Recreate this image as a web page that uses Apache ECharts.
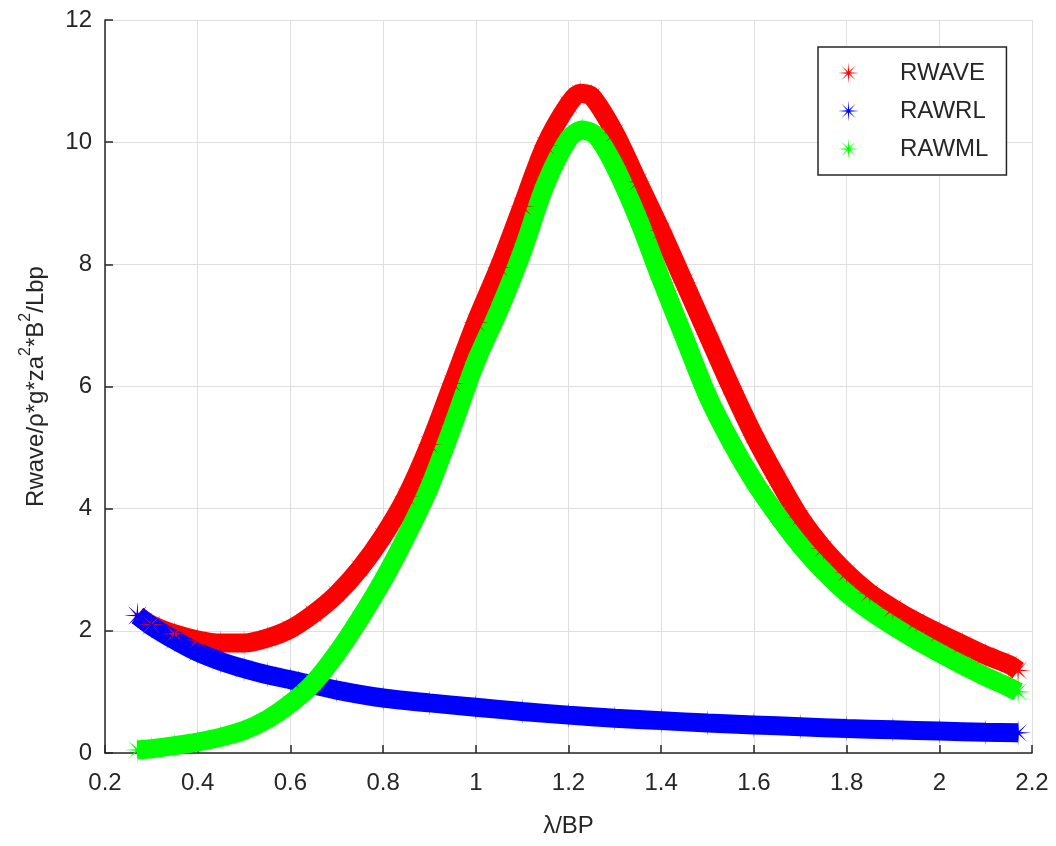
<!DOCTYPE html>
<html>
<head>
<meta charset="utf-8">
<title>Rwave vs λ/BP</title>
<script src="https://cdn.jsdelivr.net/npm/echarts@6/dist/echarts.min.js"></script>
<style>
  html, body { margin: 0; padding: 0; background: #ffffff; }
  #chart { width: 1056px; height: 846px; }
</style>
</head>
<body>
<div id="chart"></div>
<script>
// Tick values
const xTicks = [0.2, 0.4, 0.6, 0.8, 1.0, 1.2, 1.4, 1.6, 1.8, 2.0, 2.2];
const yTicks = [0, 2, 4, 6, 8, 10, 12];

// Series names
const seriesNames = ['RWAVE', 'RAWRL', 'RAWML'];

// RWAVE
const rwaveX = [0.27, 0.30, 0.35, 0.40, 0.45, 0.50, 0.55, 0.60, 0.65, 0.70, 0.75, 0.80, 0.85, 0.90, 0.95,
  1.00, 1.05, 1.10, 1.15, 1.20, 1.225, 1.25, 1.30, 1.35, 1.40, 1.45, 1.50, 1.55, 1.60, 1.65, 1.70,
  1.75, 1.80, 1.85, 1.90, 1.95, 2.00, 2.05, 2.10, 2.15, 2.17];
const rwaveY = [2.25, 2.10, 1.95, 1.85, 1.80, 1.80, 1.88, 2.03, 2.28, 2.60, 3.02, 3.55, 4.20, 5.05, 6.05,
  7.05, 7.95, 8.95, 9.95, 10.62, 10.8, 10.75, 10.15, 9.35, 8.55, 7.70, 6.85, 6.00, 5.20, 4.50, 3.85,
  3.35, 2.95, 2.62, 2.37, 2.15, 1.96, 1.78, 1.60, 1.45, 1.35];

// RAWRL
const rawrlX = [0.27, 0.30, 0.35, 0.40, 0.45, 0.50, 0.55, 0.60, 0.70, 0.80, 0.90, 1.00, 1.10, 1.20,
  1.30, 1.40, 1.50, 1.60, 1.70, 1.80, 1.90, 2.00, 2.10, 2.17];
const rawrlY = [2.25, 2.08, 1.85, 1.65, 1.50, 1.38, 1.28, 1.20, 1.03, 0.90, 0.82, 0.75, 0.68, 0.62,
  0.57, 0.53, 0.49, 0.46, 0.43, 0.40, 0.38, 0.36, 0.34, 0.33];

// RAWML
const rawmlX = [0.27, 0.30, 0.35, 0.40, 0.45, 0.50, 0.55, 0.60, 0.65, 0.70, 0.75, 0.80, 0.85, 0.90, 0.95,
  1.00, 1.05, 1.10, 1.15, 1.20, 1.23, 1.26, 1.30, 1.35, 1.40, 1.45, 1.50, 1.55, 1.60, 1.65, 1.70,
  1.75, 1.80, 1.85, 1.90, 1.95, 2.00, 2.05, 2.10, 2.15, 2.17];
const rawmlY = [0.05, 0.07, 0.12, 0.18, 0.26, 0.37, 0.55, 0.81, 1.15, 1.63, 2.20, 2.83, 3.55, 4.35, 5.35,
  6.40, 7.25, 8.20, 9.30, 10.05, 10.2, 10.1, 9.60, 8.75, 7.75, 6.80, 5.85, 5.10, 4.45, 3.90, 3.40,
  2.98, 2.62, 2.33, 2.08, 1.85, 1.64, 1.44, 1.25, 1.08, 1.00];

const colors = ['#ff0000', '#0000ff', '#00ff00'];
const FONT = '"Liberation Sans", Arial, Helvetica, sans-serif';
const TEXT = '#262626';

// Eight-spoke asterisk marker as a filled star path
function asteriskPath() {
  const pts = [];
  for (let i = 0; i < 16; i++) {
    const a = i * Math.PI / 8 - Math.PI / 2;
    const r = (i % 2 === 0) ? 10 : 1.6;
    pts.push((10 + r * Math.cos(a)).toFixed(2) + ',' + (10 + r * Math.sin(a)).toFixed(2));
  }
  return 'path://M' + pts.join('L') + 'Z';
}
const ASTERISK = asteriskPath();

function pairs(xs, ys) { return xs.map((x, i) => [x, ys[i]]); }

function makeSeries(name, xs, ys, color) {
  return {
    name: name,
    type: 'line',
    data: pairs(xs, ys),
    smooth: 0.3,
    symbol: ASTERISK,
    symbolSize: 26,
    showSymbol: true,
    showAllSymbol: true,
    lineStyle: { color: color, width: 19 },
    itemStyle: { color: color },
    emphasis: { disabled: true },
    animation: false
  };
}

const chart = echarts.init(document.getElementById('chart'), null, { renderer: 'canvas' });

const fmt = v => String(+(+v).toFixed(1));

chart.setOption({
  backgroundColor: '#ffffff',
  animation: false,
  grid: { left: 105, right: 24, top: 20, bottom: 93, containLabel: false },
  xAxis: {
    type: 'value',
    min: xTicks[0],
    max: xTicks[xTicks.length - 1],
    interval: 0.2,
    name: 'λ/BP',
    nameLocation: 'middle',
    nameGap: 61,
    nameTextStyle: { fontFamily: FONT, fontSize: 24, color: TEXT },
    axisLine: { show: true, lineStyle: { color: TEXT, width: 1.5 } },
    axisTick: { show: true, inside: true, length: 8, lineStyle: { color: TEXT, width: 1.5 } },
    axisLabel: { fontFamily: FONT, fontSize: 24, color: TEXT, margin: 18, formatter: fmt },
    splitLine: { show: true, lineStyle: { color: '#dfdfdf', width: 1 } }
  },
  yAxis: {
    type: 'value',
    min: yTicks[0],
    max: yTicks[yTicks.length - 1],
    interval: 2,
    name: '{n|Rwave/ρ*g*za}{s|2}{n|*B}{s|2}{n|/Lbp}',
    nameLocation: 'middle',
    nameRotate: 90,
    nameGap: 57,
    nameTextStyle: {
      fontFamily: FONT, fontSize: 24, color: TEXT,
      rich: {
        n: { fontFamily: FONT, fontSize: 24, color: TEXT, verticalAlign: 'bottom', padding: [6, 0, 0, 0] },
        s: { fontFamily: FONT, fontSize: 16, color: TEXT, verticalAlign: 'top' }
      }
    },
    axisLine: { show: true, lineStyle: { color: TEXT, width: 1.5 } },
    axisTick: { show: true, inside: true, length: 8, lineStyle: { color: TEXT, width: 1.5 } },
    axisLabel: { fontFamily: FONT, fontSize: 24, color: TEXT, margin: 13, formatter: fmt },
    splitLine: { show: true, lineStyle: { color: '#dfdfdf', width: 1 } }
  },
  legend: {
    left: 818,
    top: 47,
    orient: 'vertical',
    data: seriesNames.map((n, i) => ({ name: n, icon: ASTERISK, itemStyle: { color: colors[i] } })),
    itemWidth: 21,
    itemHeight: 21,
    itemGap: 14,
    padding: [14, 18, 14, 20],
    backgroundColor: '#ffffff',
    borderColor: TEXT,
    borderWidth: 1.5,
    borderRadius: 0,
    textStyle: { fontFamily: FONT, fontSize: 24, color: TEXT, padding: [0, 0, 0, 36] },
    selectedMode: false
  },
  series: [
    makeSeries(seriesNames[0], rwaveX, rwaveY, colors[0]),
    makeSeries(seriesNames[1], rawrlX, rawrlY, colors[1]),
    makeSeries(seriesNames[2], rawmlX, rawmlY, colors[2])
  ]
});
</script>
</body>
</html>
